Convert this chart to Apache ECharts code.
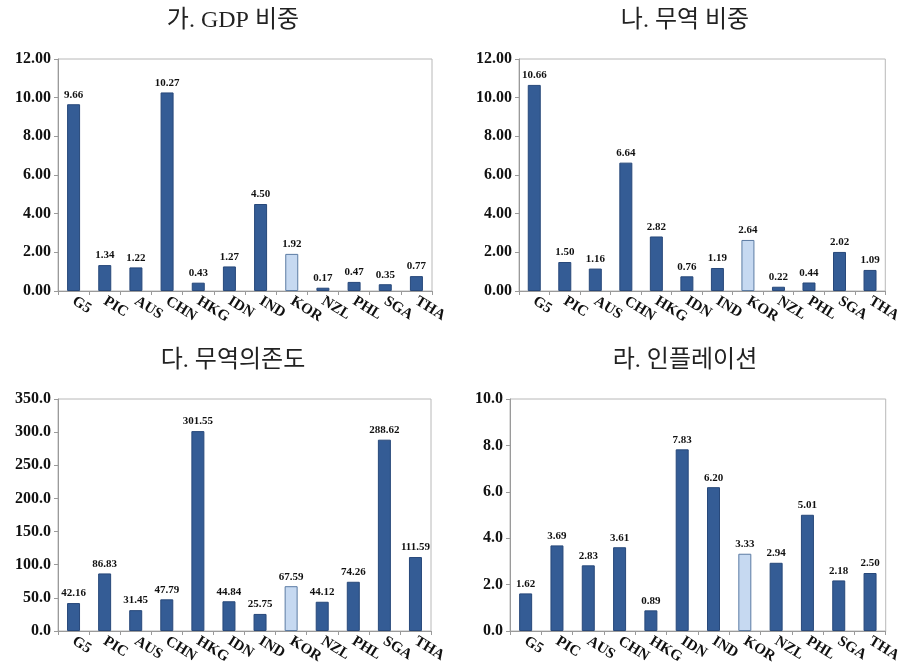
<!DOCTYPE html>
<html>
<head>
<meta charset="utf-8">
<script src="https://cdn.jsdelivr.net/npm/echarts@6/dist/echarts.min.js"></script>
<style>
  html, body { margin: 0; padding: 0; background: #fff; }
  #chart { width: 904px; height: 671px; }
</style>
</head>
<body>
<div id="chart"></div>
<script>
// 국가 코드
const countries = ['G5', 'PIC', 'AUS', 'CHN', 'HKG', 'IDN', 'IND', 'KOR', 'NZL', 'PHL', 'SGA', 'THA'];

// 패널 제목
const titles = ['가. GDP 비중', '나. 무역 비중', '다. 무역의존도', '라. 인플레이션'];

// 각 패널 값
const gdpShare   = [9.66, 1.34, 1.22, 10.27, 0.43, 1.27, 4.50, 1.92, 0.17, 0.47, 0.35, 0.77];
const tradeShare = [10.66, 1.50, 1.16, 6.64, 2.82, 0.76, 1.19, 2.64, 0.22, 0.44, 2.02, 1.09];
const tradeDep   = [42.16, 86.83, 31.45, 47.79, 301.55, 44.84, 25.75, 67.59, 44.12, 74.26, 288.62, 111.59];
const inflation  = [1.62, 3.69, 2.83, 3.61, 0.89, 7.83, 6.20, 3.33, 2.94, 5.01, 2.18, 2.50];

// y축 범위
const yMax      = [12, 12, 350, 10];
const yInterval = [2, 2, 50, 2];
const yDigits   = [2, 2, 1, 1];

const allData = [gdpShare, tradeShare, tradeDep, inflation];

const serif = '"Liberation Serif", "Times New Roman", serif';
const titleFont = '"Liberation Serif", "Noto Sans CJK KR", serif';

// 그리드 위치 (px)
const grids = [
  { left: 58,  top: 59,  width: 374, height: 232 },
  { left: 519, top: 59,  width: 369, height: 232 },
  { left: 58,  top: 399, width: 373, height: 232 },
  { left: 510, top: 399, width: 379, height: 232 }
];
const titlePos = [
  { x: 228, y: 4 },
  { x: 680, y: 4 },
  { x: 228, y: 344 },
  { x: 680, y: 344 }
];

const chart = echarts.init(document.getElementById('chart'));

const option = {
  backgroundColor: '#fff',
  animation: false,
  title: titles.map((t, i) => ({
    text: t,
    left: titlePos[i].x,
    top: titlePos[i].y,
    textAlign: 'center',
    textStyle: { fontFamily: titleFont, fontSize: 24, fontWeight: 'normal', color: '#222' }
  })),
  grid: grids.map(g => Object.assign({ show: true, borderColor: '#b8b8b8', borderWidth: 1 }, g)),
  xAxis: grids.map((g, i) => ({
    type: 'category',
    gridIndex: i,
    data: countries,
    axisLine: { lineStyle: { color: '#9a9a9a' } },
    axisTick: { show: true, length: 4, lineStyle: { color: '#9a9a9a' } },
    axisLabel: {
      rotate: -32,
      interval: 0,
      margin: 9,
      fontFamily: serif,
      fontWeight: 'bold',
      fontSize: 15,
      color: '#111'
    }
  })),
  yAxis: grids.map((g, i) => ({
    type: 'value',
    gridIndex: i,
    min: 0,
    max: yMax[i],
    interval: yInterval[i],
    axisLine: { show: true, lineStyle: { color: '#9a9a9a' } },
    axisTick: { show: true, length: 4, lineStyle: { color: '#9a9a9a' } },
    splitLine: { show: false },
    axisLabel: {
      formatter: v => v.toFixed(yDigits[i]),
      fontFamily: serif,
      fontWeight: 'bold',
      fontSize: 16,
      color: '#111',
      margin: 7
    }
  })),
  series: allData.map((d, i) => ({
    type: 'bar',
    xAxisIndex: i,
    yAxisIndex: i,
    barWidth: 13,
    data: d.map((v, j) => ({
      value: v,
      itemStyle: countries[j] === 'KOR'
        ? { color: '#c6d9f1', borderColor: '#5b7ba3', borderWidth: 1 }
        : { color: '#345c95', borderColor: '#27487a', borderWidth: 1 }
    })),
    label: {
      show: true,
      position: 'top',
      distance: 4,
      formatter: p => p.value.toFixed(2),
      fontFamily: serif,
      fontWeight: 'bold',
      fontSize: 11,
      color: '#111'
    }
  }))
};

chart.setOption(option);
</script>
</body>
</html>
